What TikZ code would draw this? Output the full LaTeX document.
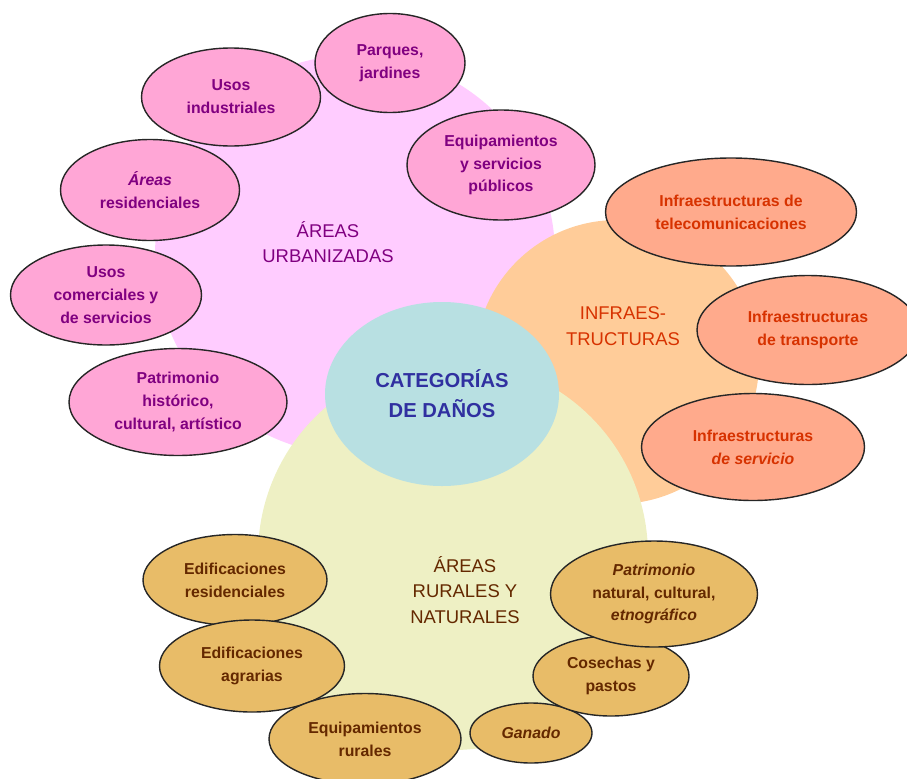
\documentclass[tikz,border=0pt]{standalone}
\usepackage{fontspec}
\setmainfont{Liberation Sans}
\usepackage{tikz}
\usetikzlibrary{shapes.geometric}
\definecolor{urbfill}{RGB}{255,204,255}
\definecolor{urbleaf}{RGB}{255,166,214}
\definecolor{urbtext}{RGB}{128,0,128}
\definecolor{inffill}{RGB}{255,204,153}
\definecolor{infleaf}{RGB}{255,170,140}
\definecolor{inftext}{RGB}{215,50,0}
\definecolor{rurfill}{RGB}{238,240,196}
\definecolor{rurleaf}{RGB}{232,188,104}
\definecolor{rurtext}{RGB}{100,40,0}
\definecolor{catfill}{RGB}{184,224,226}
\definecolor{cattext}{RGB}{48,48,160}

\begin{document}
\begin{tikzpicture}[
  area/.style={circle, inner sep=0pt},
  areatext/.style={align=center, font=\fontsize{10.5}{14.5}\selectfont},
  leaf/.style={ellipse, draw=black!85, line width=0.8pt, inner sep=0pt, align=center,
    font=\fontsize{9}{13}\selectfont\bfseries},
  urbleafbox/.style={leaf, fill=urbleaf, text=urbtext},
  infleafbox/.style={leaf, fill=infleaf, text=inftext},
  rurleafbox/.style={leaf, fill=rurleaf, text=rurtext}]
  \useasboundingbox (0,0) rectangle (18.14,-15.56);
  % the three areas and the centre
  \node[area, fill=urbfill, minimum size=8cm] (urb) at (7.1,-5.1) {};
  \node[area, fill=inffill, minimum size=5.68cm] (inf) at (12.34,-7.24) {};
  \node[area, fill=rurfill, minimum size=7.8cm] (rur) at (9.06,-11.1) {};
  \node[ellipse, fill=catfill, minimum width=4.68cm, minimum height=3.68cm, align=center,
    text=cattext, font=\fontsize{11.5}{17}\selectfont\bfseries] (cat) at (8.84,-7.88)
    {CATEGORÍAS\\DE DAÑOS};
  \node[areatext, text=urbtext] (urbtxt) at (6.56,-4.84) {ÁREAS\\URBANIZADAS};
  \node[areatext, text=inftext] (inftxt) at (12.46,-6.52) {INFRAES-\\TRUCTURAS};
  \node[areatext, text=rurtext] (rurtxt) at (9.3,-11.8) {ÁREAS\\RURALES Y\\NATURALES};
  % urban areas
  \node[urbleafbox, minimum width=3.0cm, minimum height=1.98cm] (parques) at (7.8,-1.26) {Parques,\\jardines};
  \node[urbleafbox, minimum width=3.58cm, minimum height=1.96cm] (usosind) at (4.62,-1.94) {Usos\\industriales};
  \node[urbleafbox, minimum width=3.76cm, minimum height=2.2cm] (equip) at (10.02,-3.3) {Equipamientos\\y servicios\\públicos};
  \node[urbleafbox, minimum width=3.58cm, minimum height=2.02cm] (aresid) at (3.0,-3.8) {\textit{Áreas}\\residenciales};
  \node[urbleafbox, minimum width=3.82cm, minimum height=2.0cm] (usoscom) at (2.12,-5.9) {Usos\\comerciales y\\de servicios};
  \node[urbleafbox, minimum width=4.36cm, minimum height=2.14cm] (patrim) at (3.56,-8.04) {Patrimonio\\histórico,\\cultural, artístico};
  % infrastructures
  \node[infleafbox, minimum width=5.02cm, minimum height=2.16cm] (telecom) at (14.62,-4.24) {Infraestructuras de\\telecomunicaciones};
  \node[infleafbox, minimum width=4.44cm, minimum height=2.18cm] (transp) at (16.16,-6.6) {Infraestructuras\\de transporte};
  \node[infleafbox, minimum width=4.46cm, minimum height=2.14cm] (servic) at (15.06,-8.94) {Infraestructuras\\\textit{de servicio}};
  % rural and natural areas
  \node[rurleafbox, minimum width=3.68cm, minimum height=1.82cm] (edres) at (4.7,-11.6) {Edificaciones\\residenciales};
  \node[rurleafbox, minimum width=3.7cm, minimum height=1.84cm] (edagr) at (5.04,-13.32) {Edificaciones\\agrarias};
  \node[rurleafbox, minimum width=3.84cm, minimum height=1.82cm] (eqrur) at (7.3,-14.78) {Equipamientos\\rurales};
  \node[rurleafbox, minimum width=2.44cm, minimum height=1.2cm] (ganado) at (10.62,-14.66) {\textit{Ganado}};
  \node[rurleafbox, minimum width=3.12cm, minimum height=1.6cm] (cosech) at (12.22,-13.52) {Cosechas y\\pastos};
  \node[rurleafbox, minimum width=4.14cm, minimum height=2.12cm] (patnat) at (13.08,-11.88) {\textit{Patrimonio}\\natural, cultural,\\\textit{etnográfico}};
\end{tikzpicture}
\end{document}
